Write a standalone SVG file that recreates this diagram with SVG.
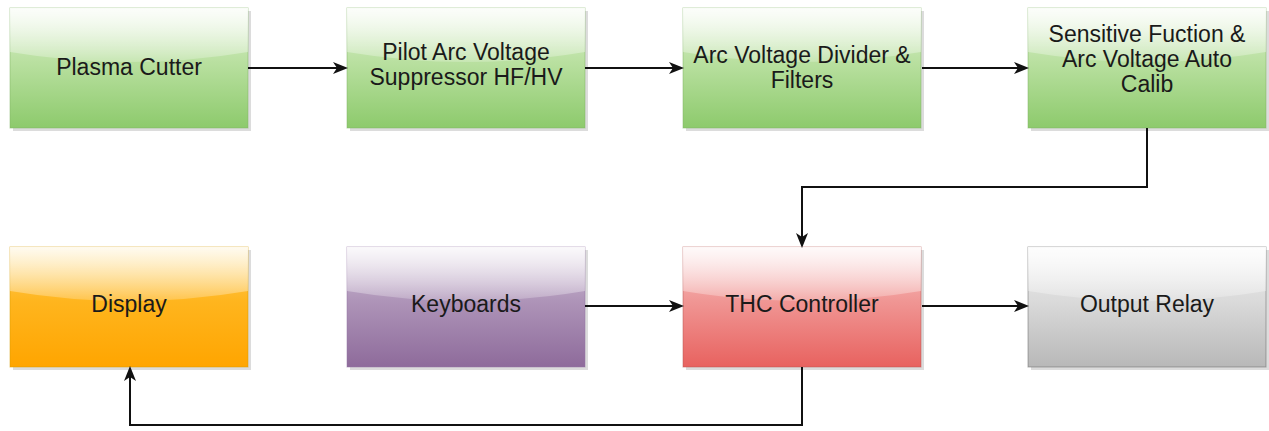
<svg xmlns="http://www.w3.org/2000/svg" width="1269" height="431" viewBox="0 0 1269 431">
<defs>
<linearGradient id="gGreen" x1="0" y1="0" x2="0" y2="1"><stop offset="0" stop-color="#dff0d3"/><stop offset="0.45" stop-color="#b9e0a0"/><stop offset="1" stop-color="#8dca6c"/></linearGradient>
<linearGradient id="gOrange" x1="0" y1="0" x2="0" y2="1"><stop offset="0" stop-color="#fdd46a"/><stop offset="0.45" stop-color="#ffb51e"/><stop offset="1" stop-color="#ffa500"/></linearGradient>
<linearGradient id="gPurple" x1="0" y1="0" x2="0" y2="1"><stop offset="0" stop-color="#d3c6d9"/><stop offset="0.45" stop-color="#ae94b8"/><stop offset="1" stop-color="#8e6b9b"/></linearGradient>
<linearGradient id="gRed" x1="0" y1="0" x2="0" y2="1"><stop offset="0" stop-color="#f8cccc"/><stop offset="0.45" stop-color="#f09694"/><stop offset="1" stop-color="#e8625f"/></linearGradient>
<linearGradient id="gGray" x1="0" y1="0" x2="0" y2="1"><stop offset="0" stop-color="#eeeeee"/><stop offset="0.45" stop-color="#dadada"/><stop offset="1" stop-color="#b8b8b8"/></linearGradient>
<linearGradient id="gGloss" x1="0" y1="0" x2="0" y2="1"><stop offset="0" stop-color="#ffffff" stop-opacity="0.9"/><stop offset="1" stop-color="#ffffff" stop-opacity="0.2"/></linearGradient>
<marker id="arr" markerUnits="userSpaceOnUse" markerWidth="16" markerHeight="14" refX="12" refY="7" orient="auto">
<path d="M0,1 L15,7 L0,13 L4,7 Z" fill="#111"/>
</marker>
<g id="gloss"><path d="M0,0 H238 V44 Q119,64 0,44 Z" fill="url(#gGloss)"/></g>
</defs>
<style>
.sh{fill:#9a9a9a;opacity:0.35}
.t{font-family:"Liberation Sans",Arial,sans-serif;font-size:23px;fill:#1a1a1a;text-anchor:middle}
.c{fill:none;stroke:#111;stroke-width:2}
.bd{stroke-width:1;stroke-opacity:0.5}
</style>

<g id="plasma-cutter" transform="translate(10,8)">
<rect class="sh" x="3" y="3" width="238" height="120"/>
<rect width="238" height="120" fill="url(#gGreen)" class="bd" stroke="#82b366"/>
<use href="#gloss"/>
<text class="t" x="119" y="67">Plasma Cutter</text>
</g>

<g id="pilot-arc" transform="translate(347,8)">
<rect class="sh" x="3" y="3" width="238" height="120"/>
<rect width="238" height="120" fill="url(#gGreen)" class="bd" stroke="#82b366"/>
<use href="#gloss"/>
<text class="t" x="119" y="52">Pilot Arc Voltage</text>
<text class="t" x="119" y="77">Suppressor HF/HV</text>
</g>

<g id="arc-divider" transform="translate(683,8)">
<rect class="sh" x="3" y="3" width="238" height="120"/>
<rect width="238" height="120" fill="url(#gGreen)" class="bd" stroke="#82b366"/>
<use href="#gloss"/>
<text class="t" x="119" y="55">Arc Voltage Divider &amp;</text>
<text class="t" x="119" y="80">Filters</text>
</g>

<g id="sensitive" transform="translate(1028,8)">
<rect class="sh" x="3" y="3" width="238" height="120"/>
<rect width="238" height="120" fill="url(#gGreen)" class="bd" stroke="#82b366"/>
<use href="#gloss"/>
<text class="t" x="119" y="34">Sensitive Fuction &amp;</text>
<text class="t" x="119" y="59">Arc Voltage Auto</text>
<text class="t" x="119" y="84">Calib</text>
</g>

<g id="display" transform="translate(10,247)">
<rect class="sh" x="3" y="3" width="238" height="120"/>
<rect width="238" height="120" fill="url(#gOrange)" class="bd" stroke="#d79b00"/>
<use href="#gloss"/>
<text class="t" x="119" y="65">Display</text>
</g>

<g id="keyboards" transform="translate(347,247)">
<rect class="sh" x="3" y="3" width="238" height="120"/>
<rect width="238" height="120" fill="url(#gPurple)" class="bd" stroke="#9673a6"/>
<use href="#gloss"/>
<text class="t" x="119" y="65">Keyboards</text>
</g>

<g id="thc-controller" transform="translate(683,247)">
<rect class="sh" x="3" y="3" width="238" height="120"/>
<rect width="238" height="120" fill="url(#gRed)" class="bd" stroke="#b85450"/>
<use href="#gloss"/>
<text class="t" x="119" y="65">THC Controller</text>
</g>

<g id="output-relay" transform="translate(1028,247)">
<rect class="sh" x="3" y="3" width="238" height="120"/>
<rect width="238" height="120" fill="url(#gGray)" class="bd" stroke="#666666"/>
<use href="#gloss"/>
<text class="t" x="119" y="65">Output Relay</text>
</g>

<g id="connectors">
<path class="c" d="M248,68 H345" marker-end="url(#arr)"/>
<path class="c" d="M585,68 H681" marker-end="url(#arr)"/>
<path class="c" d="M922,68 H1026" marker-end="url(#arr)"/>
<path class="c" d="M1147,128 V187 H802 V245" marker-end="url(#arr)"/>
<path class="c" d="M585,306 H681" marker-end="url(#arr)"/>
<path class="c" d="M922,306 H1026" marker-end="url(#arr)"/>
<path class="c" d="M802,367 V425 H130 V369" marker-end="url(#arr)"/>
</g>
</svg>
